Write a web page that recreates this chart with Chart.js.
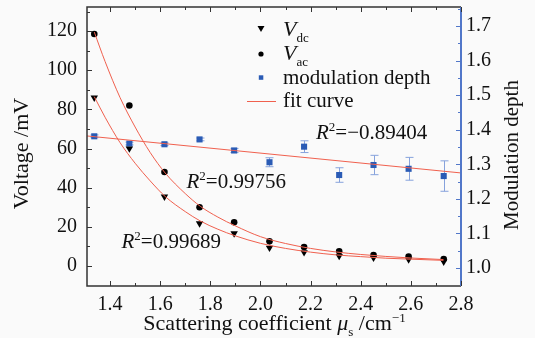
<!DOCTYPE html>
<html>
<head>
<meta charset="utf-8">
<script src="https://cdn.jsdelivr.net/npm/chart.js@4.4.0/dist/chart.umd.min.js"></script>
<style>
  html, body { margin: 0; padding: 0; background: #fafafa; }
</style>
</head>
<body>
<canvas id="chart" width="535" height="338"></canvas>
<script>
// --- DATA ---
const scattering = [1.337, 1.477, 1.617, 1.757, 1.895, 2.036, 2.174, 2.314, 2.451, 2.591, 2.731];
const vdc = [86, 60, 35.4, 21.8, 16.7, 9.3, 7.0, 5.1, 4.2, 3.4, 2.2];
const vac = [118.5, 82, 48, 30, 22.3, 12.6, 9.7, 7.5, 5.6, 4.8, 3.6];
const modDepth = [1.381, 1.360, 1.358, 1.372, 1.340, 1.306, 1.351, 1.269, 1.298, 1.287, 1.266];
const modErr = [0.004, 0.004, 0.004, 0.004, 0.006, 0.013, 0.017, 0.021, 0.028, 0.033, 0.044];

// fit curves
const fitX = [1.337, 1.38, 1.44, 1.50, 1.56, 1.62, 1.70, 1.76, 1.83, 1.90, 2.00, 2.10, 2.20, 2.30, 2.40, 2.50, 2.60, 2.73];
const fitAc = [119.5, 104.5, 86, 71, 58, 47.5, 37, 30.5, 25, 20.5, 15, 11.5, 9, 7.2, 5.9, 4.9, 4.1, 3.3];
const fitDc = [86.5, 76, 63, 52.5, 43.5, 35.5, 27.8, 23, 18.8, 15.4, 11.6, 9.0, 7.1, 5.7, 4.8, 4.0, 3.5, 2.9];
const fitModX = [1.308, 2.8];
const fitMod = [1.382, 1.275];

const r2Labels = ["0.99689", "0.99756", "\u22120.89404"];

// ticks
const xTicks = [1.4, 1.6, 1.8, 2.0, 2.2, 2.4, 2.6, 2.8];
const xMinor = [1.5, 1.7, 1.9, 2.1, 2.3, 2.5, 2.7];
const yTicks = [0, 20, 40, 60, 80, 100, 120];
const yMinor = [10, 30, 50, 70, 90, 110, 130];
const y1Ticks = [1.0, 1.1, 1.2, 1.3, 1.4, 1.5, 1.6, 1.7];
const y1Minor = [1.05, 1.15, 1.25, 1.35, 1.45, 1.55, 1.65, 1.75];

// --- STYLE ---
const FONT = '"Liberation Serif", serif';
const font = (size, italic) => (italic ? "italic " : "") + size + "px " + FONT;
const BLUE = "#2a5bb5";
const AXIS_BLUE = "#5177c9";
const ERR_BLUE = "#86a2dc";
const RED = "#f0604e";
const DARK = "#333333";

const toPts = (xs, ys) => xs.map((x, i) => ({ x: x, y: ys[i] }));

// draws text pieces one after another: [text, size, italic, dy]
function drawRuns(ctx, runs, x, y) {
  runs.forEach(r => {
    ctx.font = font(r[1], r[2]);
    ctx.fillText(r[0], x, y + (r[3] || 0));
    x += ctx.measureText(r[0]).width;
  });
  return x;
}
function runsWidth(ctx, runs) {
  let w = 0;
  runs.forEach(r => { ctx.font = font(r[1], r[2]); w += ctx.measureText(r[0]).width; });
  return w;
}

const background = {
  id: "background",
  beforeDraw(chart) {
    const ctx = chart.ctx;
    ctx.save();
    ctx.fillStyle = "#fafafa";
    ctx.fillRect(0, 0, chart.width, chart.height);
    ctx.restore();
  }
};

// error bars for modulation depth
const errorBars = {
  id: "errorBars",
  beforeDatasetsDraw(chart) {
    const ctx = chart.ctx, xs = chart.scales.x, ys = chart.scales.y1;
    ctx.save();
    ctx.strokeStyle = ERR_BLUE;
    ctx.lineWidth = 1;
    scattering.forEach((x, i) => {
      const px = Math.round(xs.getPixelForValue(x)) + 0.5;
      const top = ys.getPixelForValue(modDepth[i] + modErr[i]);
      const bot = ys.getPixelForValue(modDepth[i] - modErr[i]);
      ctx.beginPath();
      ctx.moveTo(px, top); ctx.lineTo(px, bot);
      ctx.moveTo(px - 4, top); ctx.lineTo(px + 4, top);
      ctx.moveTo(px - 4, bot); ctx.lineTo(px + 4, bot);
      ctx.stroke();
    });
    ctx.restore();
  }
};

// frame, inward ticks, axis titles, legend, R^2 labels
const decorations = {
  id: "decorations",
  afterDraw(chart) {
    const ctx = chart.ctx, a = chart.chartArea;
    const xs = chart.scales.x, ys = chart.scales.y, y1 = chart.scales.y1;
    ctx.save();

    // frame
    ctx.lineWidth = 1.5;
    ctx.strokeStyle = DARK;
    ctx.beginPath();
    ctx.moveTo(a.right, a.top); ctx.lineTo(a.left, a.top);
    ctx.lineTo(a.left, a.bottom); ctx.lineTo(a.right, a.bottom);
    ctx.stroke();
    ctx.strokeStyle = AXIS_BLUE;
    ctx.lineWidth = 2;
    ctx.beginPath();
    ctx.moveTo(a.right, a.top); ctx.lineTo(a.right, a.bottom);
    ctx.stroke();

    // ticks
    ctx.lineWidth = 1;
    ctx.strokeStyle = DARK;
    ctx.beginPath();
    const xTick = (v, len) => {
      const p = Math.round(xs.getPixelForValue(v)) + 0.5;
      ctx.moveTo(p, a.bottom); ctx.lineTo(p, a.bottom - len);
      ctx.moveTo(p, a.top); ctx.lineTo(p, a.top + len);
    };
    xTicks.forEach(v => xTick(v, 5));
    xMinor.forEach(v => xTick(v, 3));
    const yTick = (v, len) => {
      const p = Math.round(ys.getPixelForValue(v)) + 0.5;
      ctx.moveTo(a.left, p); ctx.lineTo(a.left + len, p);
    };
    yTicks.forEach(v => yTick(v, 5));
    yMinor.forEach(v => yTick(v, 3));
    ctx.stroke();
    ctx.strokeStyle = AXIS_BLUE;
    ctx.beginPath();
    const rTick = (v, len) => {
      const p = Math.round(y1.getPixelForValue(v)) + 0.5;
      ctx.moveTo(a.right, p); ctx.lineTo(a.right - len, p);
    };
    y1Ticks.forEach(v => rTick(v, 5));
    y1Minor.forEach(v => rTick(v, 3));
    ctx.stroke();

    ctx.fillStyle = "#111";
    ctx.textBaseline = "alphabetic";
    ctx.textAlign = "left";

    // x title
    const xTitle = [["Scattering coefficient ", 22, false], ["\u03bc", 22, true], ["s", 13, false, 6], [" /cm", 22, false], ["\u22121", 13, false, -8]];
    drawRuns(ctx, xTitle, 274.5 - runsWidth(ctx, xTitle) / 2, 330);

    // left title
    ctx.save();
    ctx.translate(28, 153.5);
    ctx.rotate(-Math.PI / 2);
    ctx.font = font(22, false);
    ctx.textAlign = "center";
    ctx.fillText("Voltage /mV", 0, 0);
    ctx.restore();

    // right title
    ctx.save();
    ctx.translate(518, 155);
    ctx.rotate(-Math.PI / 2);
    ctx.font = font(21, false);
    ctx.textAlign = "center";
    ctx.fillText("Modulation depth", 0, 0);
    ctx.restore();

    // legend
    ctx.fillStyle = "#000";
    ctx.beginPath();
    ctx.moveTo(257.5, 26); ctx.lineTo(264.5, 26); ctx.lineTo(261, 32);
    ctx.closePath(); ctx.fill();
    ctx.beginPath();
    ctx.arc(261, 54, 2.6, 0, Math.PI * 2); ctx.fill();
    ctx.fillStyle = BLUE;
    ctx.fillRect(258.8, 75.3, 4.5, 4.5);
    ctx.strokeStyle = RED; ctx.lineWidth = 1;
    ctx.beginPath(); ctx.moveTo(247, 101.5); ctx.lineTo(276, 101.5); ctx.stroke();
    ctx.fillStyle = "#111";
    drawRuns(ctx, [["V", 22, true], ["dc", 13, false, 6]], 283, 36);
    drawRuns(ctx, [["V", 22, true], ["ac", 13, false, 6]], 283, 59.5);
    drawRuns(ctx, [["modulation depth", 21, false]], 283, 83.5);
    drawRuns(ctx, [["fit curve", 21, false]], 283, 106.5);

    // R^2 labels
    const r2 = (label, x, y) => drawRuns(ctx, [["R", 21, true], ["2", 13, false, -8], ["=" + label, 21, false]], x, y);
    r2(r2Labels[0], 121.5, 248);
    r2(r2Labels[1], 186.5, 188);
    r2(r2Labels[2], 316, 138.5);

    ctx.restore();
  }
};

const tickFont = { family: FONT, size: 20 };
const noPad = s => { s.paddingTop = 0; s.paddingBottom = 0; s.paddingLeft = 0; s.paddingRight = 0; };

new Chart(document.getElementById("chart"), {
  type: "scatter",
  data: {
    datasets: [
      { label: "Vdc fit", data: toPts(fitX, fitDc), showLine: true, borderColor: RED, borderWidth: 1, pointRadius: 0, cubicInterpolationMode: "monotone", yAxisID: "y", order: 0 },
      { label: "Vac fit", data: toPts(fitX, fitAc), showLine: true, borderColor: RED, borderWidth: 1, pointRadius: 0, cubicInterpolationMode: "monotone", yAxisID: "y", order: 0 },
      { label: "MD fit", data: toPts(fitModX, fitMod), showLine: true, borderColor: RED, borderWidth: 1, pointRadius: 0, yAxisID: "y1", order: 0 },
      { label: "Vdc", data: toPts(scattering, vdc), pointStyle: "triangle", rotation: 180, pointRadius: 4.3, backgroundColor: "#000", borderColor: "#000", borderWidth: 0, yAxisID: "y", order: 1 },
      { label: "Vac", data: toPts(scattering, vac), pointStyle: "circle", pointRadius: 3.3, backgroundColor: "#000", borderColor: "#000", borderWidth: 0, yAxisID: "y", order: 1 },
      { label: "modulation depth", data: toPts(scattering, modDepth), pointStyle: "rect", pointRadius: 4.3, backgroundColor: BLUE, borderColor: BLUE, borderWidth: 0, yAxisID: "y1", order: 1 }
    ]
  },
  options: {
    responsive: false,
    animation: false,
    layout: { padding: { top: 7, left: 0, right: 0, bottom: 0 } },
    plugins: { legend: { display: false }, tooltip: { enabled: false } },
    scales: {
      x: {
        type: "linear", position: "bottom", min: 1.308, max: 2.8,
        grid: { display: false, drawTicks: false }, border: { display: false },
        afterBuildTicks: s => { s.ticks = xTicks.map(v => ({ value: v })); },
        afterFit: s => { s.height = 52; noPad(s); },
        ticks: { autoSkip: false, maxRotation: 0, padding: 7, color: "#111", font: tickFont, callback: v => v.toFixed(1) }
      },
      y: {
        type: "linear", position: "left", min: -10.2, max: 132.3,
        grid: { display: false, drawTicks: false }, border: { display: false },
        afterBuildTicks: s => { s.ticks = yTicks.map(v => ({ value: v })); },
        afterFit: s => { s.width = 87; noPad(s); },
        ticks: { autoSkip: false, padding: 10, color: "#111", font: tickFont, callback: v => String(v) }
      },
      y1: {
        type: "linear", position: "right", min: 0.948, max: 1.755,
        grid: { display: false, drawTicks: false }, border: { display: false },
        afterBuildTicks: s => { s.ticks = y1Ticks.map(v => ({ value: v })); },
        afterFit: s => { s.width = 74; noPad(s); },
        ticks: { autoSkip: false, padding: 5, color: "#111", font: tickFont, callback: v => v.toFixed(1) }
      }
    }
  },
  plugins: [background, errorBars, decorations]
});
</script>
</body>
</html>
